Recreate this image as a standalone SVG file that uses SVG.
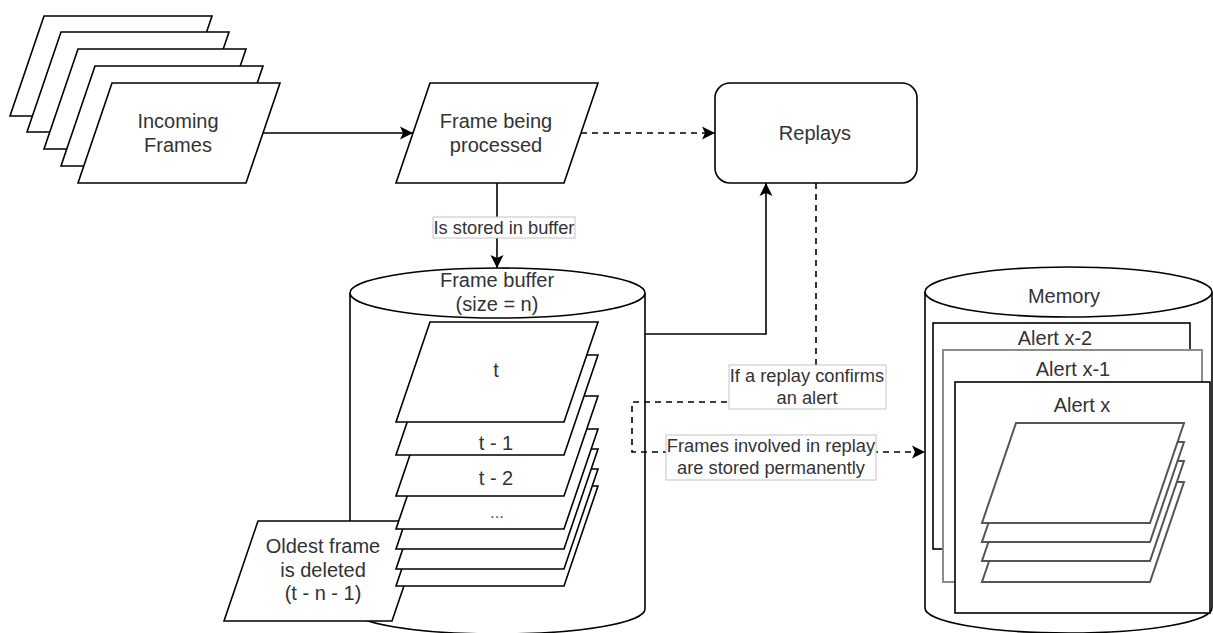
<svg xmlns="http://www.w3.org/2000/svg" width="1213" height="633" viewBox="0 0 1213 633">
  <defs>
    <style>
      .shape { fill: #ffffff; stroke: #000000; stroke-width: 1.6; stroke-linejoin: miter; }
      .grey { fill: #ffffff; stroke: #8c8c8c; stroke-width: 2; }
      .leaf { fill: #ffffff; stroke: #555555; stroke-width: 2; }
      .txt { font-family: "Liberation Sans", Arial, sans-serif; font-size: 20px; fill: #333333; text-anchor: middle; }
      .lbl { font-family: "Liberation Sans", Arial, sans-serif; font-size: 18.3px; fill: #333333; text-anchor: middle; }
      .lblbox { fill: #ffffff; stroke: #c4c4c4; stroke-width: 1; }
      .edge { fill: none; stroke: #000000; stroke-width: 1.6; }
      .dash { stroke-dasharray: 6 5; }
    </style>
    <marker id="arrow" markerUnits="userSpaceOnUse" viewBox="-14 -7 14 14" refX="0" refY="0" markerWidth="14" markerHeight="14" orient="auto">
      <path d="M-13,-6.5 L0,0 L-13,6.5 L-10,0 Z" fill="#000000"/>
    </marker>
    <!-- parallelogram frame, 202 x 100, skew 34 -->
    <polygon id="frame" points="34,0 202,0 168,100 0,100"/>
  </defs>

  <!-- stack of incoming frames -->
  <g id="incoming-frames">
    <use href="#frame" class="shape" x="10" y="16"/>
    <use href="#frame" class="shape" x="27" y="32"/>
    <use href="#frame" class="shape" x="44" y="49"/>
    <use href="#frame" class="shape" x="61" y="66"/>
    <use href="#frame" class="shape" x="78" y="83"/>
    <text class="txt" x="178" y="128">Incoming</text>
    <text class="txt" x="178" y="152">Frames</text>
  </g>

  <g id="frame-being-processed">
    <use href="#frame" class="shape" x="396" y="83"/>
    <text class="txt" x="496" y="128">Frame being</text>
    <text class="txt" x="496" y="152">processed</text>
  </g>

  <g id="replays">
    <rect class="shape" x="715" y="83" width="202" height="100" rx="15" ry="15"/>
    <text class="txt" x="815" y="140">Replays</text>
  </g>

  <!-- frame buffer cylinder with its frames -->
  <g id="frame-buffer">
    <path class="shape" d="M350,293 A147.5,25 0 0 1 645,293 L645,609 A147.5,25 0 0 1 350,609 Z"/>
    <path class="shape" fill="none" d="M350,293 A147.5,25 0 0 0 645,293"/>
    <text class="txt" x="497" y="287">Frame buffer</text>
    <text class="txt" x="497" y="311">(size = n)</text>
  </g>

  <g id="oldest-frame">
    <use href="#frame" class="shape" x="224" y="521"/>
    <text class="txt" x="323" y="553">Oldest frame</text>
    <text class="txt" x="323" y="577">is deleted</text>
    <text class="txt" x="323" y="600">(t - n - 1)</text>
  </g>

  <g id="buffer-frames">
    <use href="#frame" class="shape" x="396" y="486"/>
    <use href="#frame" class="shape" x="396" y="469"/>
    <use href="#frame" class="shape" x="396" y="449"/>
    <use href="#frame" class="shape" x="396" y="429"/>
    <text class="txt" x="497" y="518" style="font-size:17px;fill:#555555">...</text>
    <use href="#frame" class="shape" x="396" y="396"/>
    <text class="txt" x="496" y="485">t - 2</text>
    <use href="#frame" class="shape" x="396" y="355"/>
    <text class="txt" x="496" y="450">t - 1</text>
    <use href="#frame" class="shape" x="396" y="322"/>
    <text class="txt" x="496" y="377">t</text>
  </g>

  <!-- memory cylinder with stored alerts -->
  <g id="memory">
    <path class="shape" d="M925,292 A143.5,25 0 0 1 1212,292 L1212,608 A143.5,25 0 0 1 925,608 Z"/>
    <path class="shape" fill="none" d="M925,292 A143.5,25 0 0 0 1212,292"/>
    <text class="txt" x="1064" y="303">Memory</text>
  </g>

  <g id="alert-x-2">
    <rect class="shape" x="933" y="323" width="257" height="226"/>
    <text class="txt" x="1055" y="345">Alert x-2</text>
  </g>

  <g id="alert-x-1">
    <rect class="grey" x="943" y="350" width="259" height="232"/>
    <text class="txt" x="1073" y="376">Alert x-1</text>
  </g>

  <g id="alert-x">
    <rect class="shape" x="955" y="382" width="255" height="231"/>
    <text class="txt" x="1082" y="412">Alert x</text>
    <use href="#frame" class="leaf" x="982" y="482"/>
    <use href="#frame" class="leaf" x="982" y="461"/>
    <use href="#frame" class="leaf" x="982" y="442"/>
    <use href="#frame" class="leaf" x="982" y="423"/>
  </g>

  <!-- connectors -->
  <g id="connectors">
    <path class="edge" d="M263,133 L413,133" marker-end="url(#arrow)"/>
    <path class="edge dash" d="M581,133 L715,133" marker-end="url(#arrow)"/>
    <path class="edge" d="M497,183 L497,268" marker-end="url(#arrow)"/>
    <path class="edge" d="M645,334 L766,334 L766,183" marker-end="url(#arrow)"/>
    <path class="edge dash" d="M816,183 L816,402 L632,402 L632,452 L925,452" marker-end="url(#arrow)"/>

    <g id="label-stored">
      <rect class="lblbox" x="433" y="217" width="142" height="21"/>
      <text class="lbl" x="504" y="234">Is stored in buffer</text>
    </g>
    <g id="label-confirms">
      <rect class="lblbox" x="729" y="365" width="157" height="44"/>
      <text class="lbl" x="807" y="382">If a replay confirms</text>
      <text class="lbl" x="807" y="404">an alert</text>
    </g>
    <g id="label-permanent">
      <rect class="lblbox" x="666" y="435" width="210" height="45"/>
      <text class="lbl" x="771" y="452">Frames involved in replay</text>
      <text class="lbl" x="771" y="474">are stored permanently</text>
    </g>
  </g>
</svg>
